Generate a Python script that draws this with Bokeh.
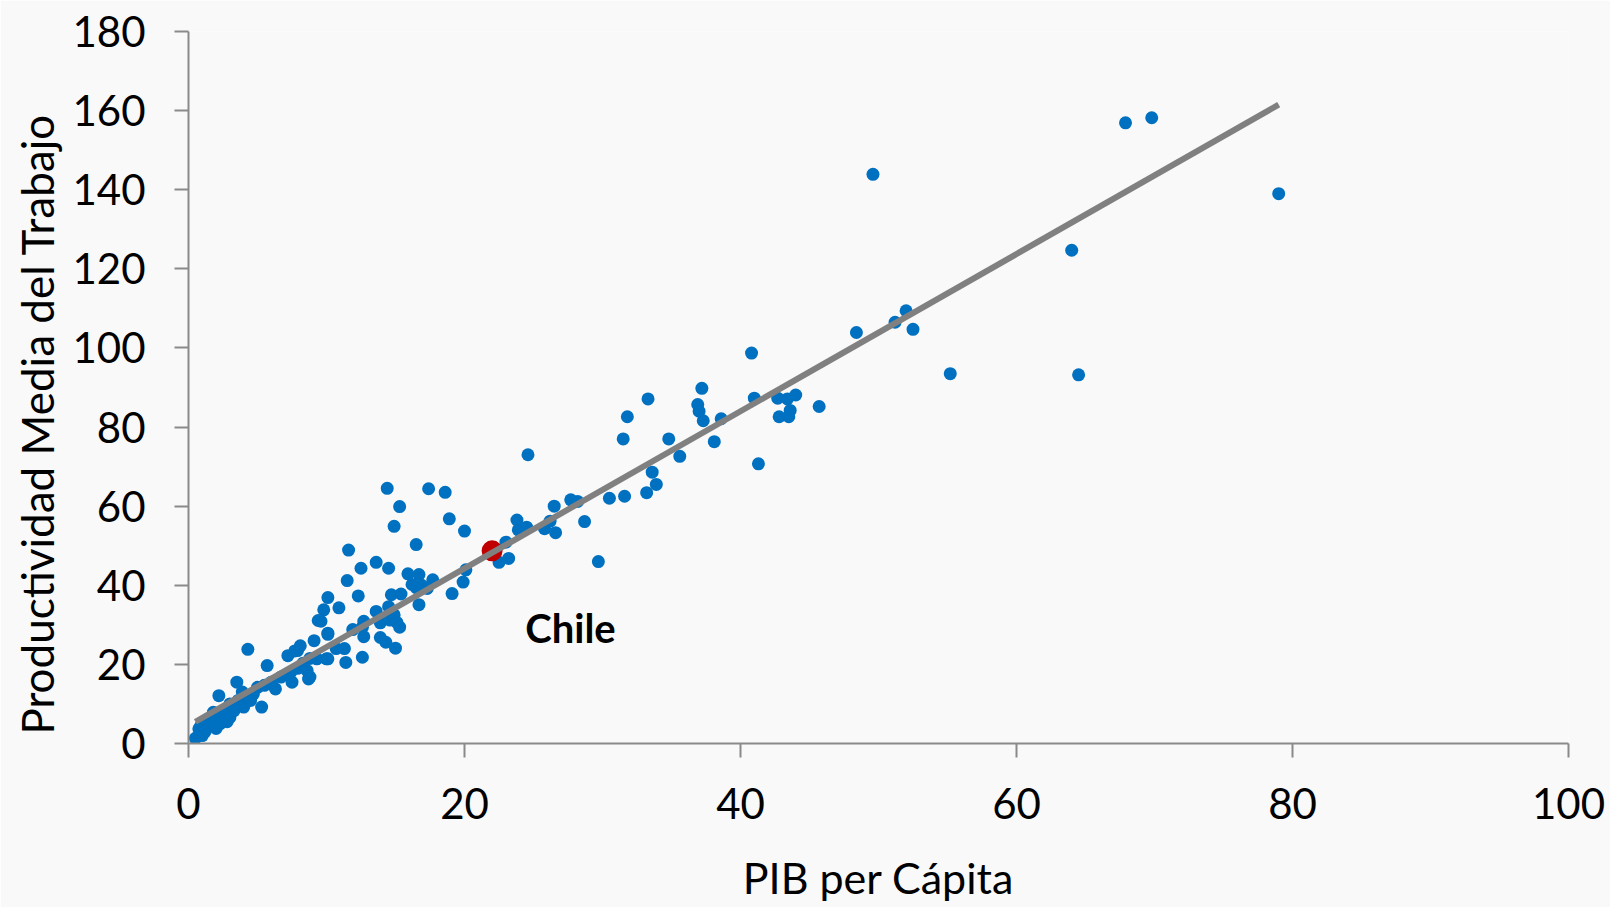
from bokeh.plotting import figure
from bokeh.models import Range1d, Label, FixedTicker, Title
from bokeh.embed import file_html
from bokeh.resources import INLINE

# PIB per cápita (miles) vs productividad media del trabajo
pib = [67.9, 69.8, 79.0, 49.6, 64.0, 64.5, 55.2, 48.4, 51.2, 52.0, 52.5, 40.8, 41.0, 41.3,
       45.7, 44.0, 42.7, 43.4, 43.6, 42.8, 43.5,
       37.2, 36.9, 37.0, 37.3, 38.6, 38.1, 33.3, 31.8, 31.5, 34.8, 35.6, 33.6, 33.9, 33.2,
       31.6, 30.5, 29.7, 28.7, 27.7, 28.2, 26.5, 26.2, 25.8, 26.6, 24.6, 23.8, 24.5, 23.9,
       23.0, 23.2, 22.5,
       18.6, 18.9, 20.0, 19.9, 19.1, 20.1,
       14.4, 17.4, 15.3, 14.9, 16.5, 11.6, 13.6, 12.5, 14.5, 15.9, 16.7, 17.7, 16.2, 16.5,
       16.9, 17.3, 11.5, 12.3, 10.1, 9.8, 10.9, 9.6, 9.1, 10.1, 14.7, 15.4, 13.6, 12.7,
       14.5, 13.9, 14.6, 14.9, 15.3, 15.1, 14.3, 15.0, 16.7, 12.6, 11.4, 11.3, 10.7, 10.0,
       9.3, 7.9, 7.2, 5.7, 4.3, 7.5, 8.7, 6.3, 5.3, 3.5, 2.2,
       12.6, 11.9, 12.7, 13.9, 8.1, 7.7, 8.3, 7.9, 8.8,
       3.9, 3.6, 3.0, 3.3, 2.6, 1.8, 2.1, 1.4, 0.9, 1.6, 2.3, 3.0, 4.0, 4.5, 5.0, 5.5, 6.7,
       7.4, 8.1, 8.6, 8.8, 0.75, 0.5, 0.85, 4.7, 4.4, 1.2, 2.0, 2.8, 1.0, 6.0, 9.4, 10.1,
       10.1]
productividad = [156.9, 158.2, 139.0, 143.9, 124.7, 93.2, 93.5, 103.9, 106.5, 109.4, 104.7,
                 98.7, 87.3, 70.7, 85.2, 88.1, 87.3, 87.1, 84.2, 82.6, 82.6,
                 89.8, 85.7, 84.0, 81.6, 82.1, 76.3, 87.1, 82.6, 77.0, 77.0, 72.6, 68.6, 65.5,
                 63.4, 62.5, 62.0, 46.0, 56.1, 61.6, 61.2, 60.0, 56.2, 54.3, 53.3, 73.0, 56.5,
                 54.7, 54.0, 50.9, 46.8, 45.8,
                 63.5, 56.8, 53.7, 40.8, 37.9, 43.9,
                 64.5, 64.4, 59.9, 54.9, 50.3, 48.9, 45.8, 44.3, 44.3, 42.9, 42.7, 41.4, 40.2,
                 39.4, 40.0, 39.2, 41.2, 37.3, 36.9, 33.8, 34.3, 30.9, 26.0, 27.9, 37.6, 37.8,
                 33.4, 30.9, 34.6, 30.5, 31.2, 32.5, 29.4, 30.6, 25.6, 24.1, 35.1, 21.8, 20.5,
                 24.0, 24.0, 21.4, 21.4, 23.5, 22.2, 19.7, 23.8, 15.5, 16.3, 13.8, 9.2, 15.5,
                 12.1,
                 29.4, 28.8, 27.0, 26.8, 24.7, 23.4, 20.3, 19.0, 21.5,
                 13.0, 10.9, 10.0, 8.3, 7.5, 7.9, 5.8, 6.2, 4.5, 4.5, 5.0, 6.6, 9.2, 10.9, 14.2,
                 14.7, 16.8, 18.0, 19.3, 18.4, 16.8, 3.7, 1.3, 2.9, 12.5, 11.8, 3.0, 3.8, 5.5,
                 2.0, 15.5, 31.1, 27.6, 21.4]
chile_pib = [22.0]
chile_prod = [48.7]
tendencia_x = [0.5, 79.0]
tendencia_y = [5.5, 161.5]
x_ticks = [0, 20, 40, 60, 80, 100]
y_ticks = [0, 20, 40, 60, 80, 100, 120, 140, 160, 180]

FONT = "Lato"
BG = "#f9f9f9"
AXIS = "#8a8a8a"

p = figure(frame_width=1380, frame_height=712,
           min_border_left=188, min_border_right=42,
           min_border_top=31, min_border_bottom=164,
           x_range=Range1d(0, 100), y_range=Range1d(0, 180),
           output_backend="svg", toolbar_location=None,
           background_fill_color=BG, border_fill_color=BG)
p.outline_line_color = None
p.grid.visible = False

p.scatter(pib, productividad, size=13, color="#0070C0", line_color=None)
p.scatter(chile_pib, chile_prod, size=21, color="#C00000", line_color=None)
p.line(tendencia_x, tendencia_y, line_color="#808080", line_width=6)

p.xaxis.ticker = FixedTicker(ticks=x_ticks)
p.yaxis.ticker = FixedTicker(ticks=y_ticks)
for ax in (p.xaxis, p.yaxis):
    ax.axis_line_color = AXIS
    ax.axis_line_width = 2
    ax.major_tick_line_color = AXIS
    ax.major_tick_line_width = 2
    ax.major_tick_out = 14
    ax.major_tick_in = 0
    ax.minor_tick_out = 0
    ax.minor_tick_in = 0
    ax.major_label_text_font = FONT
    ax.major_label_text_font_size = "42px"
    ax.major_label_text_color = "black"
    ax.axis_label_text_font = FONT
    ax.axis_label_text_font_size = "43px"
    ax.axis_label_text_font_style = "normal"
    ax.axis_label_text_color = "black"

p.xaxis.major_label_standoff = 30
p.yaxis.major_label_standoff = 29
p.xaxis.axis_label = "PIB per Cápita"
p.xaxis.axis_label_standoff = 30

# y-axis title, starting near the bottom of the axis as in the original
p.add_layout(Title(text="Productividad Media del Trabajo", align="left", offset=9,
                   standoff=14, text_font=FONT, text_font_size="44px",
                   text_font_style="normal", text_color="black"), "left")

p.add_layout(Label(x=24.4, y=29.3, text="Chile", text_align="left",
                   text_baseline="middle", text_font=FONT, text_font_size="40px",
                   text_font_style="bold", text_color="black"))

open("out.html", "w").write(file_html(p, INLINE))
